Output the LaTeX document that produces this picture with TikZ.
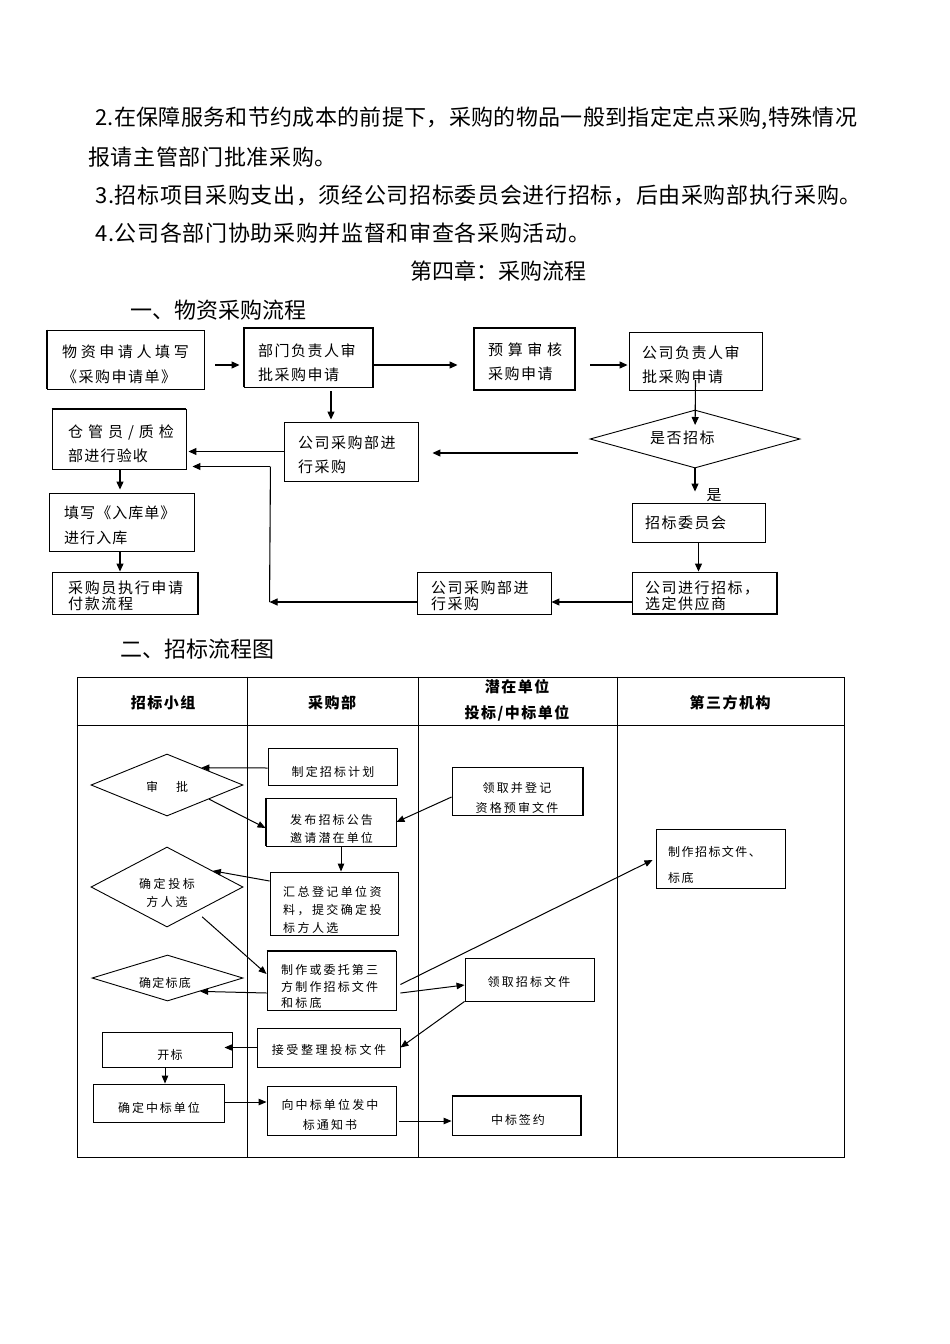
\documentclass[tikz,border=0pt]{standalone}
\usepackage{fontspec}
\setmainfont{Noto Sans CJK SC}
\usetikzlibrary{arrows.meta,calc,shapes.geometric}
\newcommand\ls[2]{{\addfontfeatures{LetterSpace=#1}#2}}
\tikzset{
  box/.style={draw, line width=0.9pt, inner sep=0pt},
  dia/.style={draw, diamond, line width=0.9pt, inner sep=0pt},
  thk/.style={line width=2pt},
  ta/.style={inner sep=0pt, align=left, anchor=west, font=\fontsize{15}{24}\selectfont},
  tb/.style={inner sep=0pt, align=left, anchor=west, font=\fontsize{12}{18}\selectfont},
  tbc/.style={inner sep=0pt, align=center, font=\fontsize{12}{18}\selectfont},
  th/.style={inner sep=0pt, align=center, font=\fontsize{15}{26}\selectfont\bfseries},
  par/.style={inner sep=0pt, anchor=west, font=\fontsize{22}{22}\selectfont},
  arr/.style={-{Triangle[length=8pt,width=7pt]}, line width=1.1pt},
  arrb/.style={-{Triangle[length=8pt,width=6.5pt]}, line width=1pt},
  ln/.style={line width=1.1pt},
}
\begin{document}
\begin{tikzpicture}[x=1pt,y=-1pt]
\useasboundingbox (0,0) rectangle (950,1344);
% ---------------- top text ----------------
\node[par] (p1) at (95,118) {\ls{1.5}{2.在保障服务和节约成本的前提下，采购的物品一般到指定定点采购,特殊情况}};
\node[par] (p2) at (88,157) {\ls{3}{报请主管部门批准采购。}};
\node[par] (p3) at (95,195) {\ls{3}{3.招标项目采购支出，须经公司招标委员会进行招标，后由采购部执行采购。}};
\node[par] (p4) at (95,233) {\ls{3}{4.公司各部门协助采购并监督和审查各采购活动。}};
\node[par] (h0) at (410,271) {第四章：采购流程};
\node[par] (h1) at (130,310) {一、物资采购流程};
\node[par] (h2) at (120,649) {二、招标流程图};

% ---------------- flow 1 ----------------
\node[box, minimum width=157pt, minimum height=59pt] (A) at (125.5,359.5) {};
\node[box, minimum width=129pt, minimum height=59pt] (B) at (308.5,357.5) {};
\node[box, minimum width=101pt, minimum height=62pt] (C) at (524.5,359) {};
\node[box, minimum width=133pt, minimum height=58pt] (D) at (695.5,361) {};
\node[dia, minimum width=210pt, minimum height=58pt] (Q) at (695,439) {};
\node[box, minimum width=133pt, minimum height=39pt] (E) at (698.5,522.5) {};
\node[box, minimum width=145pt, minimum height=42pt] (F) at (704.5,593) {};
\node[box, minimum width=134pt, minimum height=42pt] (G) at (484,593) {};
\node[box, minimum width=134pt, minimum height=59pt] (H) at (351,451.5) {};
\node[box, minimum width=134pt, minimum height=60pt] (I) at (119,439) {};
\node[box, minimum width=145pt, minimum height=58pt] (J) at (121.5,522) {};
\node[box, minimum width=146pt, minimum height=42pt] (K) at (125,593) {};
% thicker sides
\draw[thk] (A.north west) -- (A.south west);
\draw[thk] (B.south west) -- (B.north west) -- (B.north east) -- (B.south east);
\draw[thk] (C.south west) rectangle (C.north east);
\draw[thk] (I.north west) -- (I.north east);
\draw[thk] (K.north east) -- (K.south east);
\draw[thk] (F.north east) -- (F.south east) -- (F.south west);

% texts
\node[ta, font=\fontsize{15}{25}\selectfont] (At) at (62,364.5) {\ls{24}{物资申请人填写}\\\ls{10}{《采购申请单》}};
\node[ta] (Bt) at (258,363) {\ls{10}{部门负责人审}\\\ls{10}{批采购申请}};
\node[ta] (Ct) at (488,362) {\ls{31}{预算审核}\\\ls{10}{采购申请}};
\node[ta] (Dt) at (642,365) {\ls{10}{公司负责人审}\\\ls{10}{批采购申请}};
\node[ta] (Qt) at (650,438) {\ls{10}{是否招标}};
\node[ta] (Et) at (645,523) {\ls{10}{招标委员会}};
\node[ta, font=\fontsize{15}{16}\selectfont] (Ft) at (645,595.5) {\ls{10}{公司进行招标，}\\\ls{10}{选定供应商}};
\node[ta, font=\fontsize{15}{16}\selectfont] (Gt) at (431,595.5) {\ls{10}{公司采购部进}\\\ls{10}{行采购}};
\node[ta] (Ht) at (298,455) {\ls{10}{公司采购部进}\\\ls{10}{行采购}};
\node[ta] (It) at (68,444) {\ls{33}{仓管员/质检}\\\ls{8}{部进行验收}};
\node[ta, font=\fontsize{15}{25}\selectfont] (Jt) at (64,525.5) {\ls{7}{填写《入库单》}\\\ls{7}{进行入库}};
\node[ta, font=\fontsize{15}{16}\selectfont] (Kt) at (68,595.5) {\ls{11}{采购员执行申请}\\\ls{11}{付款流程}};
\node[inner sep=0pt, font=\fontsize{15}{15}\selectfont] (yes) at (714,495) {是};

% arrows
\draw[arr, shorten <=11pt, shorten >=4pt] ([yshift=-5.5pt]A.east) -- ([yshift=-5.5pt]A.east -| B.west);
\draw[arr, shorten >=16pt] ([yshift=-7.5pt]B.east) -- ([yshift=-7.5pt]B.east -| C.west);
\draw[arr, shorten <=15pt, shorten >=1pt] ([yshift=-6pt]C.east) -- ([yshift=-6pt]C.east -| D.west);
\draw[arr, shorten >=14pt] ([yshift=-19pt]D.center) -- (Q.center);
\draw[arr, shorten >=11pt] (Q.south) -- (Q.south |- E.north);
\draw[arr] (E.south) -- (E.south |- F.north);
\draw[arr] ([yshift=-9pt]F.west) -- ([yshift=-9pt]F.west -| G.east);
\coordinate (c1) at ($(G.west)+(-147,9)$);
\coordinate (c2) at ($(I.east)+(84,27.5)$);
\draw[arr] ([yshift=-9pt]G.west) -- (c1);
\draw[ln] (c1) -- (c2);
\draw[arr, shorten >=6pt] (c2) -- (c2 -| I.east);
\draw[arr, shorten <=12pt, shorten >=14pt] ([yshift=-14pt]Q.west) -- ([yshift=-14pt]Q.west -| H.east);
\draw[arr, shorten <=4pt, shorten >=2pt] ([xshift=22.5pt]B.south) -- ([xshift=22.5pt]B.south |- H.north);
\draw[arr, shorten >=2pt] (H.west) -- (H.west -| I.east);
\draw[arr, shorten >=3pt] ([xshift=1pt]I.south) -- ([xshift=1pt]I.south |- J.north);
\draw[arr] ([xshift=-1.5pt]J.south) -- ([xshift=-1.5pt]J.south |- K.north);

% ---------------- flow 2 table ----------------
\node[box, minimum width=767pt, minimum height=480pt] (T) at (460.5,917) {};
\draw[line width=0.9pt] (T.north west |- 0,725) coordinate (hl) -- (T.north east |- 0,725);
\draw[line width=0.9pt] (T.north west -| 247,0) -- (T.south west -| 247,0);
\draw[line width=0.9pt] (T.north west -| 418,0) -- (T.south west -| 418,0);
\draw[line width=0.9pt] (T.north west -| 617,0) -- (T.south west -| 617,0);
\node[th] (H1) at (163,703) {\ls{10}{招标小组}};
\node[th] (H2) at (332,703) {\ls{10}{采购部}};
\node[th] (H3) at (517,700) {\ls{10}{潜在单位}\\\ls{10}{投标/中标单位}};
\node[th] (H4) at (730,703) {\ls{10}{第三方机构}};

% flow 2 nodes
\node[box, minimum width=129pt, minimum height=37pt] (P1) at (332.5,766.5) {};
\node[dia, minimum width=152pt, minimum height=62pt] (D1) at (167,785) {};
\node[box, minimum width=130pt, minimum height=48pt] (P2) at (331,822) {};
\node[box, minimum width=131pt, minimum height=48pt] (U1) at (517.5,791) {};
\node[box, minimum width=128pt, minimum height=63pt] (P3) at (334,903.5) {};
\node[dia, minimum width=152pt, minimum height=80pt] (D2) at (167,887) {};
\node[box, minimum width=129pt, minimum height=59pt] (P4) at (331.5,980.5) {};
\node[box, minimum width=129pt, minimum height=59pt] (T1) at (720.5,858.5) {};
\node[dia, minimum width=151pt, minimum height=46pt] (D3) at (167.5,978) {};
\node[box, minimum width=129pt, minimum height=43pt] (U2) at (529.5,979.5) {};
\node[box, minimum width=143pt, minimum height=39pt] (P5) at (328.5,1047.5) {};
\node[box, minimum width=130pt, minimum height=35pt] (G1) at (167,1049.5) {};
\node[box, minimum width=131pt, minimum height=38pt] (G2) at (158.5,1103) {};
\node[box, minimum width=129pt, minimum height=49pt] (P6) at (331.5,1110.5) {};
\node[box, minimum width=129pt, minimum height=39pt] (U3) at (516.5,1115.5) {};
\draw[thk] (P2.north west) -- (P2.south west);
\draw[thk] (U1.north east) -- (U1.south east);
\draw[thk] (P4.north west) -- (P4.north east);
\draw[thk] (U3.north west) -- (U3.north east) -- (U3.south east);

% flow 2 texts
\node[tbc] (P1t) at (333,772) {\ls{18}{制定招标计划}};
\node[tbc] (D1t) at (167,787) {审\hspace{18pt}批};
\node[tb] (P2t) at (290,829) {\ls{18}{发布招标公告}\\\ls{18}{邀请潜在单位}};
\node[tbc, font=\fontsize{12}{20}\selectfont] (U1t) at (517,798) {\ls{18}{领取并登记}\\\ls{18}{资格预审文件}};
\node[tb] (P3t) at (283,910) {\ls{20}{汇总登记单位资}\\\ls{20}{料，提交确定投}\\\ls{20}{标方人选}};
\node[tbc] (D2t) at (167,893) {\ls{22}{确定投标}\\\ls{22}{方人选}};
\node[tb, font=\fontsize{12}{16.5}\selectfont] (P4t) at (281,986.5) {\ls{18}{制作或委托第三}\\\ls{18}{方制作招标文件}\\\ls{18}{和标底}};
\node[tb, font=\fontsize{12}{26}\selectfont] (T1t) at (668,865) {\ls{12}{制作招标文件、}\\\ls{12}{标底}};
\node[tbc] (D3t) at (165,983) {\ls{10}{确定标底}};
\node[tbc] (U2t) at (529,982) {\ls{18}{领取招标文件}};
\node[tbc] (P5t) at (329,1050) {\ls{22}{接受整理投标文件}};
\node[tbc] (G1t) at (170,1055) {\ls{10}{开标}};
\node[tbc] (G2t) at (159,1108) {\ls{16}{确定中标单位}};
\node[tbc, font=\fontsize{12}{20}\selectfont] (P6t) at (330,1115) {\ls{18}{向中标单位发中}\\\ls{18}{标通知书}};
\node[tbc] (U3t) at (518,1120) {\ls{16}{中标签约}};

% flow 2 arrows
\draw[arrb] ([yshift=-1.5pt]P1.west) -- ($(D1.north)!0.45!(D1.east)$);
\draw[arrb] ($(D1.east)!0.45!(D1.south)$) -- ([yshift=-6pt]P2.west);
\draw[arrb] ([yshift=-6pt]U1.west) -- (P2.east);
\draw[arrb] ([xshift=10pt]P2.south) -- ([xshift=10pt]P2.south |- P3.north);
\draw[arrb] ([yshift=22.5pt]P3.west) -- ($(D2.north)!0.6!(D2.east)$);
\draw[arrb] ($(D2.east)!0.54!(D2.south)+(0,8)$) -- ($(P4.west)+(0,-6.5)$);
\draw[arrb] ($(P4.west)+(0,12.5)$) -- ($(D3.east)!0.57!(D3.south)$);
\draw[arrb] ($(P4.east)+(4,4)$) -- ($(T1.west)+(-3,1.5)$);
\draw[arrb] ($(P4.east)+(4,12.5)$) -- ($(U2.west)+(0,5.5)$);
\draw[arrb] (U2.south west) -- (P5.east);
\draw[arrb] (P5.west) -- ($(P5.west -| G1.east)+(-8,0)$);
\draw[arrb] ([xshift=-2pt]G1.south) -- ([xshift=-2pt]G1.south |- G2.north);
\draw[arrb] ([yshift=1pt]G2.east) -- ([yshift=1pt]G2.east -| P6.west);
\draw[arrb, shorten <=3pt] ([yshift=-10.5pt]P6.east) -- ([yshift=-10.5pt]P6.east -| U3.west);
\end{tikzpicture}
\end{document}
